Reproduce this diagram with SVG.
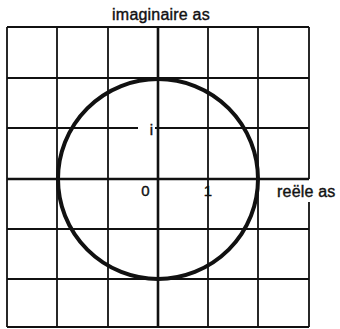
<svg xmlns="http://www.w3.org/2000/svg" width="340" height="329" viewBox="0 0 340 329">
<style>
.g{stroke:#111;stroke-width:1.8;fill:none}
.a{stroke:#111;stroke-width:2.6;fill:none}
.c{stroke:#111;stroke-width:4;fill:none}
text{font-family:"Liberation Sans",Arial,sans-serif;fill:#111;stroke:#111;stroke-width:0.4}
.lbl{font-size:16px;letter-spacing:0.2px}
.num{font-size:15px}
</style>
<rect width="340" height="329" fill="#fff"/>
<g id="connectors">
<g id="grid">
<line class="g" x1="7" y1="27" x2="309" y2="27"/>
<line class="g" x1="7" y1="78" x2="309" y2="78"/>
<line class="g" x1="7" y1="128" x2="138" y2="128"/>
<line class="g" x1="155" y1="128" x2="309" y2="128"/>
<line class="g" x1="7" y1="229" x2="309" y2="229"/>
<line class="g" x1="7" y1="279" x2="309" y2="279"/>
<line class="g" x1="7" y1="327" x2="309" y2="327"/>
<line class="g" x1="7" y1="27" x2="7" y2="327"/>
<line class="g" x1="57" y1="27" x2="57" y2="327"/>
<line class="g" x1="108" y1="27" x2="108" y2="327"/>
<line class="g" x1="208" y1="27" x2="208" y2="327"/>
<line class="g" x1="258" y1="27" x2="258" y2="327"/>
<line class="g" x1="309" y1="27" x2="309" y2="179"/>
<line class="g" x1="309" y1="202" x2="309" y2="327"/>
</g>
<g id="axes">
<line class="a" x1="7" y1="179" x2="309" y2="179"/>
<line class="a" x1="158" y1="27" x2="158" y2="327"/>
</g>
</g>
<g id="circle">
<circle class="c" cx="158" cy="179" r="100"/>
</g>
<g id="labels">
<text class="lbl" x="161" y="20" text-anchor="middle">imaginaire as</text>
<text class="lbl" x="277" y="197">reële as</text>
<text class="num" x="145.5" y="196" text-anchor="middle">0</text>
<text class="num" x="208" y="196" text-anchor="middle">1</text>
<text class="num" x="151.5" y="135" text-anchor="middle">i</text>
</g>
</svg>
